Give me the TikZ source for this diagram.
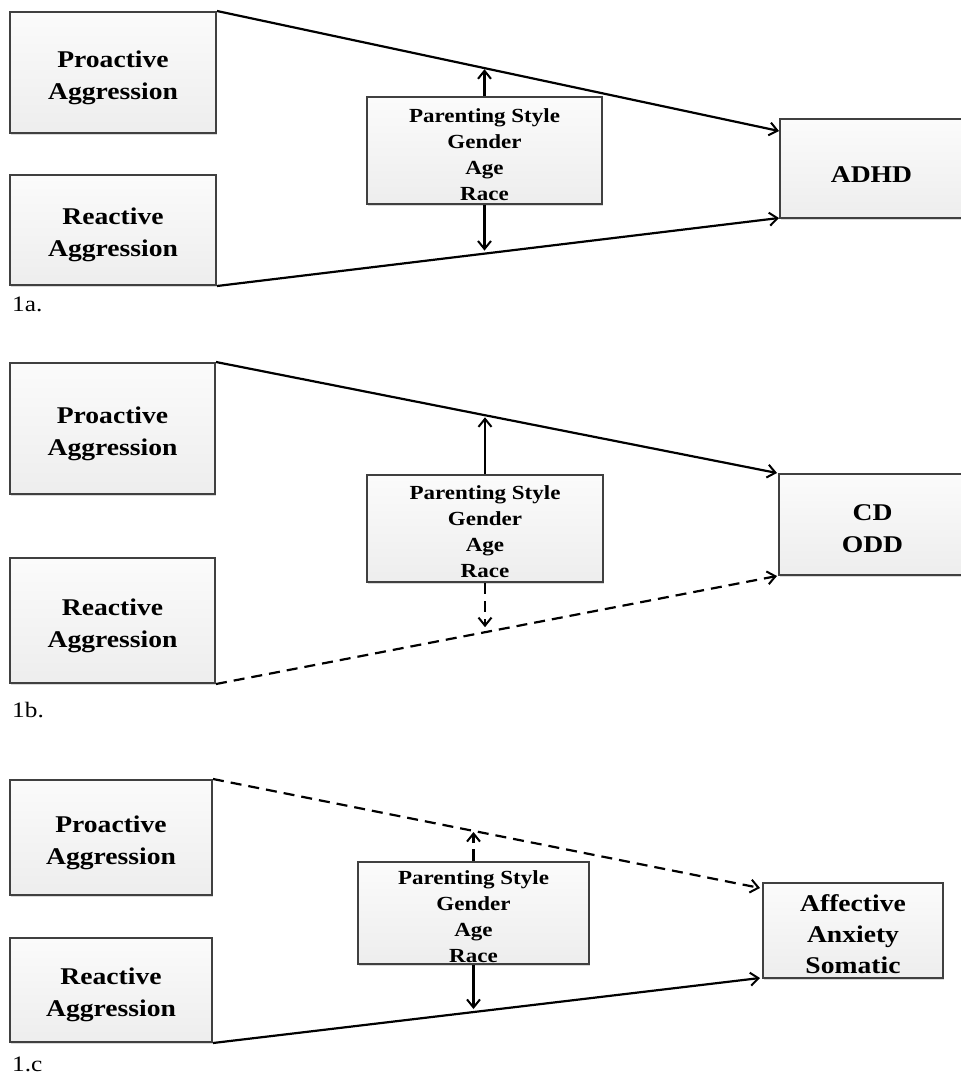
\documentclass[tikz,border=0pt]{standalone}
\usepackage{fontspec}
\setmainfont{Liberation Serif}[FakeStretch=1.15]
\usetikzlibrary{arrows.meta,shadows,calc}
\newcommand\topgap[1]{\rule{0pt}{#1}}
\begin{document}
\begin{tikzpicture}[x=1pt,y=-1pt,
  box/.style={draw=black!75, line width=2pt, top color=gray!3, bottom color=gray!14,
    inner sep=0pt, align=center, font=\fontsize{24}{32}\selectfont\bfseries,
    drop shadow={shadow xshift=1.2pt,shadow yshift=-1.8pt,opacity=0.3}},
  mbox/.style={box, font=\fontsize{20}{26}\selectfont\bfseries},
  conn/.style={line width=2.2pt, -{Straight Barb[length=8pt,width=13pt,line width=2pt]}},
  dsh/.style={dash pattern=on 11pt off 7pt},
  lab/.style={anchor=base west, inner sep=0pt, font=\fontsize{22}{26}\selectfont}]
\useasboundingbox (0,0) rectangle (961,1074);
\clip (0,0) rectangle (961,1074);

% ---------- Panel 1a ----------
\node[box, minimum width=206pt, minimum height=121pt] (P1) at (113,72.5) {\topgap{27pt}Proactive\\Aggression};
\node[box, minimum width=206pt, minimum height=110pt] (R1) at (113,230) {\topgap{27pt}Reactive\\Aggression};
\node[mbox, minimum width=235pt, minimum height=107pt] (M1) at (484.5,150.5) {\topgap{22pt}Parenting Style\\Gender\\Age\\Race};
\node[box, minimum width=183pt, minimum height=99pt] (A1) at (871.5,168.5) {\topgap{28pt}ADHD};
\node[lab] (L1) at (12,311) {1a.};
\coordinate (a1t) at ($(A1.north west)+(0,13)$);
\coordinate (a1b) at ($(A1.south west)+(0,-1)$);
\draw[conn] (P1.north east) -- (a1t);
\draw[conn] (R1.south east) -- (a1b);
\coordinate (t1) at ($(P1.north east)!0.477!(a1t)$);
\coordinate (b1) at ($(R1.south east)!0.477!(a1b)$);
\draw[conn] (M1.north) -- ([yshift=-1pt]M1.north |- t1);
\draw[conn] (M1.south) -- ([yshift=3pt]M1.south |- b1);

% ---------- Panel 1b ----------
\node[box, minimum width=205pt, minimum height=131pt] (P2) at (112.5,428.5) {\topgap{27pt}Proactive\\Aggression};
\node[box, minimum width=205pt, minimum height=125pt] (R2) at (112.5,620.5) {\topgap{27pt}Reactive\\Aggression};
\node[mbox, minimum width=236pt, minimum height=107pt] (M2) at (485,528.5) {\topgap{21pt}Parenting Style\\Gender\\Age\\Race};
\node[box, minimum width=187pt, minimum height=101pt] (C2) at (872.5,524.5) {\topgap{24pt}CD\\ODD};
\node[lab] (L2) at (12,717) {1b.};
\coordinate (c2t) at ($(C2.north west)+(-1,0)$);
\coordinate (c2b) at ($(C2.south west)+(-1,0)$);
\draw[conn] (P2.north east) -- (c2t);
\draw[conn,dsh] (R2.south east) -- (c2b);
\coordinate (t2) at ($(P2.north east)!0.48!(c2t)$);
\coordinate (b2) at ($(R2.south east)!0.48!(c2b)$);
\draw[conn] (M2.north) -- ([yshift=-2pt]M2.north |- t2);
\draw[conn,dsh] (M2.south) -- ([yshift=5pt]M2.south |- b2);

% ---------- Panel 1c ----------
\node[box, minimum width=202pt, minimum height=115pt] (P3) at (111,837.5) {\topgap{27pt}Proactive\\Aggression};
\node[box, minimum width=202pt, minimum height=104pt] (R3) at (111,990) {\topgap{27pt}Reactive\\Aggression};
\node[mbox, minimum width=231pt, minimum height=102pt] (M3) at (473.5,913) {\topgap{22pt}Parenting Style\\Gender\\Age\\Race};
\node[box, minimum width=180pt, minimum height=95pt, font=\fontsize{24}{31}\selectfont\bfseries] (F3) at (853,930.5) {\topgap{25pt}Affective\\Anxiety\\Somatic};
\node[lab] (L3) at (12,1071) {1.c};
\coordinate (f3t) at ($(F3.north west)+(-2,6)$);
\coordinate (f3b) at ($(F3.south west)+(-2,-1)$);
\draw[conn,dsh] (P3.north east) -- (f3t);
\draw[conn] (R3.south east) -- (f3b);
\coordinate (t3) at ($(P3.north east)!0.477!(f3t)$);
\coordinate (b3) at ($(R3.south east)!0.477!(f3b)$);
\draw[conn,dash pattern=on 12pt off 6pt] (M3.north) -- ([yshift=-1pt]M3.north |- t3);
\draw[conn] (M3.south) -- ([yshift=3pt]M3.south |- b3);
\end{tikzpicture}
\end{document}
